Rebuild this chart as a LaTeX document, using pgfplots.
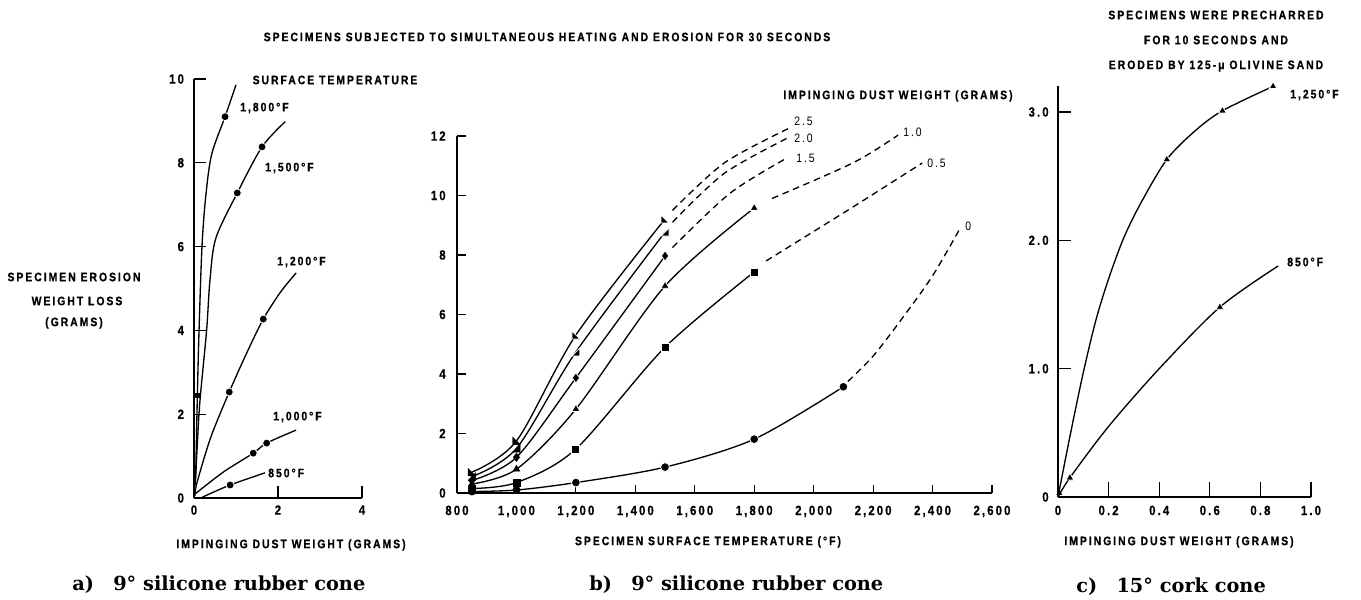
\documentclass[border=0pt]{standalone}
\usepackage{pgfplots}
\pgfplotsset{compat=1.18}
\usepackage{fontspec}
\newfontfamily\lab[FakeStretch=0.85,LetterSpace=16,BoldFeatures={FakeBold=0.6}]{Liberation Sans}
\newfontfamily\capf{DejaVu Serif}
\newcommand\lf{\lab\bfseries\fontsize{9.2}{10.5}\selectfont}
\newcommand\lr{\lab\fontsize{9.2}{10.5}\selectfont}
\newcommand\tf{\lab\bfseries\fontsize{10}{11}\selectfont}
\pgfdeclareplotmark{tribl}{%
 \pgfpathmoveto{\pgfqpoint{-\pgfplotmarksize}{\pgfplotmarksize}}%
 \pgfpathlineto{\pgfqpoint{-\pgfplotmarksize}{-\pgfplotmarksize}}%
 \pgfpathlineto{\pgfqpoint{\pgfplotmarksize}{-\pgfplotmarksize}}%
 \pgfpathclose\pgfusepathqfillstroke}
\pgfdeclareplotmark{tribr}{%
 \pgfpathmoveto{\pgfqpoint{\pgfplotmarksize}{\pgfplotmarksize}}%
 \pgfpathlineto{\pgfqpoint{\pgfplotmarksize}{-\pgfplotmarksize}}%
 \pgfpathlineto{\pgfqpoint{-\pgfplotmarksize}{-\pgfplotmarksize}}%
 \pgfpathclose\pgfusepathqfillstroke}
\pgfplotsset{
 myax/.style={scale only axis, anchor=south west, axis lines*=left,
   axis line style={line width=1.3pt,-}, tick align=inside,
   tick style={line width=0.9pt,black}, ticklabel style={font=\tf},
   clip=false},
 cv/.style={smooth, no markers, line width=1pt, black},
 dcv/.style={cv, dash pattern=on 5pt off 3.5pt},
 mk/.style={only marks, black, mark options={fill=black, draw=white, line width=0.6pt}},
 mkb/.style={only marks, black, mark options={fill=black, draw=black, line width=0.3pt}},
}
\begin{document}
\begin{tikzpicture}
\useasboundingbox (0,0) rectangle (1020.75pt,450pt);
% ---------------- panel a
\begin{axis}[myax, at={(145.5pt,76.5pt)}, width=126pt, height=314.25pt,
  xmin=0, xmax=4, ymin=0, ymax=10,
  xtick={0,2,4}, xticklabels={0,2,4},
  ytick={0,2,4,6,8,10}, yticklabels={0,2,4,6,8,10},
  major tick length=9pt,
  yticklabel style={xshift=-4pt}, xticklabel style={yshift=-2pt}]
\addplot[cv] coordinates {(0.04,0.5) (0.08,2.45) (0.12,4.0) (0.19,6.0) (0.28,7.2) (0.42,8.2) (0.74,9.1) (1.0,9.86)};
\addplot[cv] coordinates {(0.03,0.3) (0.08,1.3) (0.14,2.3) (0.3,4.0) (0.38,5.2) (0.52,6.2) (1.03,7.28) (1.62,8.38) (2.17,8.98)};
\addplot[cv] coordinates {(0.02,0.05) (0.07,0.36) (0.4,1.45) (0.84,2.53) (1.25,3.45) (1.65,4.27) (2.05,4.9) (2.43,5.37)};
\addplot[cv] coordinates {(0.03,0.1) (0.7,0.62) (1.41,1.07) (1.73,1.31) (2.43,1.62)};
\addplot[cv] coordinates {(0.2,0.02) (0.86,0.31) (1.69,0.6)};
\addplot[mk, mark=*, mark size=3pt] coordinates {(0.74,9.1) (1.62,8.38) (1.03,7.28) (0.84,2.53) (1.65,4.27) (1.41,1.07) (1.73,1.31) (0.86,0.31)};
\addplot[mkb, mark=square*, mark size=1.3pt] coordinates {(0.08,2.45)};
\end{axis}
% ---------------- panel b
\begin{axis}[myax, at={(342.75pt,80.25pt)}, width=401.25pt, height=267.75pt,
  xmin=800, xmax=2600, ymin=0, ymax=12,
  xtick={800,1000,1200,1400,1600,1800,2000,2200,2400,2600},
  xticklabels={800,{1,000},{1,200},{1,400},{1,600},{1,800},{2,000},{2,200},{2,400},{2,600}},
  ytick={0,2,4,6,8,10,12}, yticklabels={0,2,4,6,8,10,12},
  ytick style={/pgfplots/major tick length=7pt},
  xtick style={/pgfplots/major tick length=6pt},
  yticklabel style={xshift=-5pt}, xticklabel style={yshift=-6pt}]
% 0 g
\addplot[cv] coordinates {(850,0.05) (1000,0.1) (1200,0.35) (1500,0.87) (1800,1.81) (2100,3.57)};
\addplot[dcv] coordinates {(2115,3.75) (2200,4.6) (2300,5.9) (2400,7.3) (2490,8.85)};
% 0.5 g
\addplot[cv] coordinates {(850,0.15) (1000,0.35) (1200,1.48) (1500,4.9) (1800,7.43)};
\addplot[dcv] coordinates {(1840,7.8) (2130,9.6) (2365,11.09)};
% 1.0 g
\addplot[cv] coordinates {(850,0.3) (1000,0.8) (1200,2.82) (1500,6.96) (1800,9.58)};
\addplot[dcv] coordinates {(1860,9.9) (2133,11.1) (2284,12.03)};
% 1.5 g
\addplot[cv] coordinates {(850,0.42) (1000,1.2) (1200,3.87) (1500,7.97)};
\addplot[dcv] coordinates {(1525,8.25) (1719,10.08) (1910,11.26)};
% 2.0 g
\addplot[cv] coordinates {(850,0.55) (1000,1.5) (1200,4.74) (1500,8.77)};
\addplot[dcv] coordinates {(1525,9.1) (1700,10.75) (1920,11.97)};
% 2.5 g
\addplot[cv] coordinates {(850,0.7) (1000,1.75) (1200,5.31) (1500,9.21)};
\addplot[dcv] coordinates {(1525,9.5) (1700,11.1) (1915,12.25)};
% marks
\addplot[mk, mark=*, mark size=3.3pt] coordinates {(1200,0.35) (1500,0.87) (1800,1.81) (2100,3.57)};
\addplot[mk, mark=square*, mark size=3pt] coordinates {(1200,1.48) (1500,4.9) (1800,7.43)};
\addplot[mk, mark=triangle*, mark size=3.6pt] coordinates {(1200,2.82) (1500,6.96) (1800,9.58)};
\addplot[mk, mark=diamond*, mark size=3.8pt] coordinates {(1200,3.87) (1500,7.97)};
\addplot[mk, mark=tribr, mark size=3pt] coordinates {(1200,4.74) (1500,8.77)};
\addplot[mk, mark=tribl, mark size=3pt] coordinates {(1200,5.31) (1500,9.21)};
\addplot[mkb, mark=*, mark size=2.8pt] coordinates {(850,0.05) (1000,0.1)};
\addplot[mkb, mark=square*, mark size=2.8pt] coordinates {(850,0.15) (1000,0.35)};
\addplot[mkb, mark=triangle*, mark size=3pt] coordinates {(850,0.3) (1000,0.8)};
\addplot[mkb, mark=diamond*, mark size=3.2pt] coordinates {(850,0.42) (1000,1.2)};
\addplot[mkb, mark=tribr, mark size=2.8pt] coordinates {(850,0.55) (1000,1.5)};
\addplot[mkb, mark=tribl, mark size=2.8pt] coordinates {(850,0.7) (1000,1.75)};
\end{axis}
% ---------------- panel c
\begin{axis}[myax, at={(793.5pt,77.25pt)}, width=189.75pt, height=308pt,
  xmin=0, xmax=1, ymin=0, ymax=3.2,
  xtick={0,0.2,0.4,0.6,0.8,1.0}, xticklabels={0,0.2,0.4,0.6,0.8,1.0},
  ytick={0,1,2,3}, yticklabels={0,1.0,2.0,3.0},
  ytick style={/pgfplots/major tick length=10pt},
  xtick style={/pgfplots/major tick length=11pt},
  yticklabel style={xshift=-3.5pt}, xticklabel style={yshift=-3pt}]
\addplot[cv] coordinates {(0,0) (0.05,0.5) (0.1,0.97) (0.15,1.38) (0.2,1.7) (0.26,2.02) (0.33,2.3) (0.43,2.63) (0.54,2.85) (0.65,3.01) (0.85,3.2)};
\addplot[cv] coordinates {(0,0) (0.047,0.15) (0.2,0.55) (0.4,1.0) (0.64,1.48) (0.87,1.8)};
\addplot[mk, mark=triangle*, mark size=3.4pt] coordinates {(0.43,2.63) (0.65,3.01) (0.85,3.2) (0.047,0.15) (0.64,1.48)};
\addplot[mkb, mark=triangle*, mark size=2.2pt] coordinates {(0.005,0.03)};
\end{axis}
% ---------------- text
\begin{scope}[shift={(0pt,450pt)},x=0.75pt,y=-0.75pt]
\node[font=\lf] at (547,37) {SPECIMENS SUBJECTED TO SIMULTANEOUS HEATING AND EROSION FOR 30 SECONDS};
\node[font=\lf] at (335,80) {SURFACE TEMPERATURE};
\node[font=\lf,anchor=west,inner sep=0] at (240,108) {1,800°F};
\node[font=\lf,anchor=west,inner sep=0] at (265,168) {1,500°F};
\node[font=\lf,anchor=west,inner sep=0] at (277,262) {1,200°F};
\node[font=\lf,anchor=west,inner sep=0] at (273,417) {1,000°F};
\node[font=\lf,anchor=west,inner sep=0] at (268,473) {850°F};
\node[font=\lf] at (74,277) {SPECIMEN EROSION};
\node[font=\lf] at (77,301) {WEIGHT LOSS};
\node[font=\lf] at (74,323) {(GRAMS)};
\node[font=\lf] at (291,545) {IMPINGING DUST WEIGHT (GRAMS)};
\node[font=\lf] at (898,96) {IMPINGING DUST WEIGHT (GRAMS)};
\node[font=\lr,anchor=west,inner sep=0] at (794,121) {2.5};
\node[font=\lr,anchor=west,inner sep=0] at (794,138) {2.0};
\node[font=\lr,anchor=west,inner sep=0] at (796,158) {1.5};
\node[font=\lr,anchor=west,inner sep=0] at (903,132) {1.0};
\node[font=\lr,anchor=west,inner sep=0] at (927,163) {0.5};
\node[font=\lr,anchor=west,inner sep=0] at (965,226) {0};
\node[font=\lf] at (708,542) {SPECIMEN SURFACE TEMPERATURE (°F)};
\node[font=\lf] at (1216,15) {SPECIMENS WERE PRECHARRED};
\node[font=\lf] at (1216,40) {FOR 10 SECONDS AND};
\node[font=\lf] at (1216,66) {ERODED BY 125-μ OLIVINE SAND};
\node[font=\lf,anchor=west,inner sep=0] at (1290,95) {1,250°F};
\node[font=\lf,anchor=west,inner sep=0] at (1287,262) {850°F};
\node[font=\lf] at (1179,542) {IMPINGING DUST WEIGHT (GRAMS)};
\node[font=\capf\bfseries\fontsize{14.5}{16}\selectfont,anchor=west,inner sep=0] at (72,585) {a)\quad 9° silicone rubber cone};
\node[font=\capf\bfseries\fontsize{14.5}{16}\selectfont,anchor=west,inner sep=0] at (589,585) {b)\quad 9° silicone rubber cone};
\node[font=\capf\bfseries\fontsize{14.5}{16}\selectfont,anchor=west,inner sep=0] at (1076,587) {c)\quad 15° cork cone};
\end{scope}
\end{tikzpicture}
\end{document}
